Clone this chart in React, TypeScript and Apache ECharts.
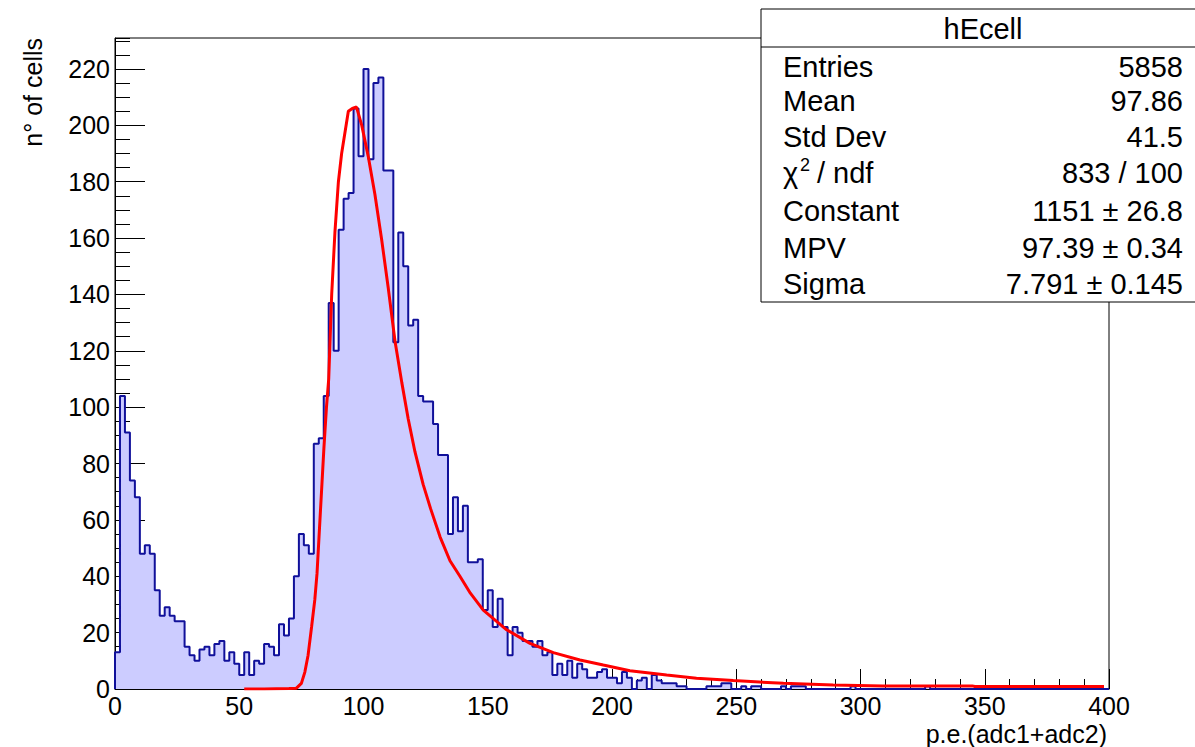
import React, { useEffect, useRef } from "react";
import * as echarts from "echarts";

// Histogram hEcell: 200 bins of width 2 from 0 to 400
const binWidth = 2;
const counts = [
  13, 104, 91, 74, 68, 48, 51, 48, 35, 26,
  29, 26, 24, 24, 15, 12, 10, 14, 15, 12,
  16, 17, 10, 13, 9, 5, 13, 5, 10, 9,
  16, 15, 12, 23, 19, 25, 40, 55, 51, 48,
  87, 89, 104, 137, 120, 163, 174, 176, 206, 189,
  220, 188, 215, 217, 184, 184, 123, 162, 150, 129,
  131, 104, 102, 102, 94, 83, 83, 55, 68, 56,
  65, 45, 45, 46, 28, 35, 22, 32, 22, 12,
  22, 20, 17, 17, 15, 17, 12, 13, 5, 9,
  5, 10, 4, 9, 7, 4, 4, 6, 7, 4,
  4, 2, 6, 4, 0, 3, 4, 0, 5, 3,
  2, 2, 2, 1, 1, 0, 0, 0, 0, 1,
  1, 1, 2, 2, 0, 0, 1, 0, 1, 1,
  0, 0, 0, 0, 1, 0, 1, 1, 1, 0,
  0, 0, 0, 0, 0, 0, 0, 0, 1, 0,
  0, 0, 0, 0, 0, 0, 0, 0, 0, 0,
  0, 0, 0, 1, 0, 0, 0, 0, 0, 0,
  0, 0, 0, 0, 0, 0, 0, 0, 0, 0,
  0, 0, 0, 0, 0, 0, 0, 0, 0, 0,
  0, 0, 0, 0, 0, 0, 0, 0, 0, 0,
];

// Landau fit curve
const fitX = [52, 60, 70, 73, 75, 76.4, 77.7, 79.1, 80.4, 81.3, 82.1, 83.1, 84.1, 85.1, 86, 87.2, 88.5, 89.9, 91.2, 93.9, 95.5, 97.2, 99.3, 101.9, 104.6, 107.3, 110, 112.7, 115.4, 118, 120.7, 124, 127, 130.8, 134.8, 138.8, 143, 148.2, 157.6, 167, 176.4, 187.1, 196.5, 207.2, 222, 234, 248.8, 269, 289, 309, 345, 346, 398];
const fitY = [0, 0, 0.2, 0.3, 2, 6, 12, 22, 31.6, 41, 54, 70, 86, 100, 110, 140, 162, 180, 190, 205, 206, 206.5, 200, 189, 175.5, 159.5, 142, 123.3, 108.8, 95.8, 84.2, 72.6, 64, 54, 45.5, 40, 34, 28, 21, 16.2, 12.9, 10.3, 8.5, 6.5, 5, 3.8, 3, 2, 1.4, 1.1, 1.1, 0.9, 0.9];

const statLabels = ["Entries", "Mean", "Std Dev", "", "Constant", "MPV", "Sigma"];
const statValues = ["5858", "97.86", "41.5", "833 / 100", "1151 \u00b1 26.8", "97.39 \u00b1 0.34", "7.791 \u00b1 0.145"];

const FONT = "'Liberation Sans', Arial, Helvetica, sans-serif";

export default function App() {
  const ref = useRef<HTMLDivElement>(null);
  useEffect(() => {
    if (!ref.current) return;
    const chart = echarts.init(ref.current, null, { renderer: "svg" });

    const histData: number[][] = [[0, 0]];
    counts.forEach((c, i) => histData.push([i * binWidth, c]));
    histData.push([counts.length * binWidth, 0]);
    const fitData = fitX.map((x, i) => [x, fitY[i]]);

    const rowY = [67, 101, 137, 173, 211, 248, 284];
    const graphics: any[] = [
      {
        type: "rect",
        shape: { x: 761, y: 9, width: 450, height: 293 },
        style: { fill: "#fff", stroke: "#000", lineWidth: 1 },
        z: 100,
      },
      {
        type: "line",
        shape: { x1: 761, y1: 47, x2: 1195, y2: 47 },
        style: { stroke: "#000", lineWidth: 1 },
        z: 101,
      },
      {
        type: "text",
        x: 983,
        y: 29,
        style: { text: "hEcell", font: `29px ${FONT}`, fill: "#000", align: "center", verticalAlign: "middle" },
        z: 101,
      },
      {
        type: "text",
        x: 33,
        y: 38,
        rotation: Math.PI / 2,
        style: { text: "n\u00b0 of cells", font: `25px ${FONT}`, fill: "#000", align: "right", verticalAlign: "middle" },
        z: 101,
      },
      {
        type: "text",
        x: 1107,
        y: 734,
        style: { text: "p.e.(adc1+adc2)", font: `25px ${FONT}`, fill: "#000", align: "right", verticalAlign: "middle" },
        z: 101,
      },
      {
        type: "text",
        x: 783,
        y: rowY[3],
        style: { text: "\u03c7", font: `29px ${FONT}`, fill: "#000", align: "left", verticalAlign: "middle" },
        z: 101,
      },
      {
        type: "text",
        x: 800,
        y: rowY[3] - 8,
        style: { text: "2", font: `18px ${FONT}`, fill: "#000", align: "left", verticalAlign: "middle" },
        z: 101,
      },
      {
        type: "text",
        x: 817,
        y: rowY[3],
        style: { text: "/ ndf", font: `29px ${FONT}`, fill: "#000", align: "left", verticalAlign: "middle" },
        z: 101,
      },
    ];
    statLabels.forEach((l, i) => {
      if (l) {
        graphics.push({
          type: "text",
          x: 783,
          y: rowY[i],
          style: { text: l, font: `29px ${FONT}`, fill: "#000", align: "left", verticalAlign: "middle" },
          z: 101,
        });
      }
      graphics.push({
        type: "text",
        x: 1183,
        y: rowY[i],
        style: { text: statValues[i], font: `29px ${FONT}`, fill: "#000", align: "right", verticalAlign: "middle" },
        z: 101,
      });
    });

    chart.setOption({
      animation: false,
      backgroundColor: "#fff",
      grid: {
        left: 115,
        top: 38,
        width: 994,
        height: 651,
        show: true,
        borderColor: "#000",
        borderWidth: 1,
        backgroundColor: "transparent",
      },
      xAxis: {
        type: "value",
        min: 0,
        max: 400,
        interval: 50,
        axisLine: { show: true, lineStyle: { color: "#000", width: 1 } },
        axisTick: { show: true, inside: true, length: 20, lineStyle: { color: "#000" } },
        minorTick: { show: true, splitNumber: 5, length: 10, lineStyle: { color: "#000" } },
        splitLine: { show: false },
        axisLabel: { color: "#000", fontSize: 25, fontFamily: FONT, margin: 4 },
      },
      yAxis: [
        {
          type: "value",
          position: "left",
          min: 0,
          max: 231,
          interval: 20,
          axisLine: { show: true, lineStyle: { color: "#000", width: 1 } },
          axisTick: { show: true, inside: true, length: 30, lineStyle: { color: "#000" } },
          splitLine: { show: false },
          axisLabel: {
            color: "#000",
            fontSize: 25,
            fontFamily: FONT,
            margin: 5,
            showMaxLabel: false,
            formatter: (v: number) => (v % 20 === 0 ? String(v) : ""),
          },
        },
        {
          type: "value",
          position: "left",
          min: 0,
          max: 231,
          interval: 5,
          axisLine: { show: false },
          axisTick: { show: true, inside: true, length: 15, lineStyle: { color: "#000" } },
          splitLine: { show: false },
          axisLabel: { show: false },
        },
      ],
      series: [
        {
          type: "line",
          data: histData,
          step: "end",
          symbol: "none",
          lineStyle: { color: "#10109a", width: 2 },
          areaStyle: { color: "#ccccff", opacity: 1 },
          z: 2,
        },
        {
          type: "line",
          data: fitData,
          symbol: "none",
          smooth: false,
          lineStyle: { color: "#ff0000", width: 3 },
          z: 3,
        },
      ],
      graphic: graphics,
    });
    return () => chart.dispose();
  }, []);
  return (
    <div
      ref={ref}
      style={{ position: "absolute", left: 0, top: 0, width: 1195, height: 747, background: "#fff" }}
    />
  );
}
